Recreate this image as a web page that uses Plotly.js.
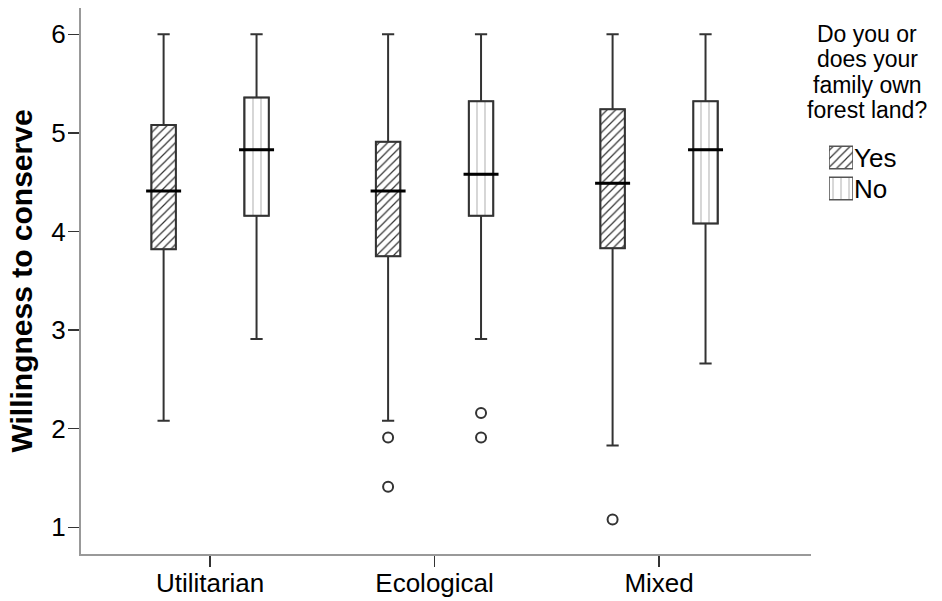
<!DOCTYPE html>
<html>
<head>
<meta charset="utf-8">
<script src="https://cdn.plot.ly/plotly-3.0.1.min.js"></script>
<style>html,body{margin:0;padding:0;background:#fff;}#chart{width:942px;height:601px;}</style>
</head>
<body>
<div id="chart"></div>
<script>
const categories = ['Utilitarian', 'Ecological', 'Mixed'];
const groups = ['Yes', 'No'];

const yesQ1 = [3.82, 3.75, 3.83];
const yesMedian = [4.41, 4.41, 4.49];
const yesQ3 = [5.08, 4.91, 5.24];
const yesLower = [2.08, 2.08, 1.83];
const yesUpper = [6.0, 6.0, 6.0];

const noQ1 = [4.16, 4.16, 4.08];
const noMedian = [4.83, 4.58, 4.83];
const noQ3 = [5.36, 5.32, 5.32];
const noLower = [2.91, 2.91, 2.66];
const noUpper = [6.0, 6.0, 6.0];

const yesOutlierCats = ['Ecological', 'Ecological', 'Mixed'];
const yesOutlierVals = [1.91, 1.41, 1.08];
const noOutlierCats = ['Ecological', 'Ecological'];
const noOutlierVals = [2.16, 1.91];

const legendTitleLines = ['Do you or', 'does your', 'family own', 'forest land?'];
const yTitle = 'Willingness to conserve';

const FONT = '"Liberation Sans", Arial, sans-serif';
const OFFSET = 0.207;
const BOXW = 0.109;
const idx = c => categories.indexOf(c);
const pos = (cats, off) => cats.map(c => idx(c) + off);

const styles = {
  Yes: {off: -OFFSET, pattern: {shape: '/', fgcolor: '#333', bgcolor: '#fff', size: 6, solidity: 0.2},
        q1: yesQ1, med: yesMedian, q3: yesQ3, lo: yesLower, hi: yesUpper, oc: yesOutlierCats, ov: yesOutlierVals},
  No: {off: OFFSET, pattern: {shape: '|', fgcolor: '#aaa', bgcolor: '#fff', size: 8, solidity: 0.12},
       q1: noQ1, med: noMedian, q3: noQ3, lo: noLower, hi: noUpper, oc: noOutlierCats, ov: noOutlierVals}
};

const traces = [];
groups.forEach(g => {
  const s = styles[g];
  const xs = pos(categories, s.off);
  traces.push({
    type: 'bar', name: g, x: xs, base: s.q1, y: s.q3.map((v, i) => v - s.q1[i]),
    width: BOXW, showlegend: false, hoverinfo: 'skip',
    marker: {color: '#fff', pattern: s.pattern, line: {color: '#555', width: 1.5}}
  });
  traces.push({
    type: 'box', name: g, x: xs, q1: s.q1, median: s.med, q3: s.q3,
    lowerfence: s.lo, upperfence: s.hi, width: BOXW, whiskerwidth: 0.5,
    fillcolor: 'rgba(0,0,0,0)', line: {color: '#333', width: 2},
    boxpoints: false, showlegend: false, hoverinfo: 'skip'
  });
  traces.push({
    type: 'scatter', mode: 'markers', x: xs, y: s.med, showlegend: false, hoverinfo: 'skip',
    marker: {symbol: 'line-ew', size: 25, line: {color: '#000', width: 3}}
  });
  traces.push({
    type: 'scatter', mode: 'markers', x: pos(s.oc, s.off), y: s.ov, showlegend: false, hoverinfo: 'skip',
    marker: {symbol: 'circle-open', size: 10, color: '#333', line: {width: 2, color: '#333'}}
  });
  // legend key (patterned square) drawn on a small key axis
  traces.push({
    type: 'bar', orientation: 'h', name: g, x: [1], y: [g], xaxis: 'x2', yaxis: 'y2',
    width: 0.72, showlegend: false, hoverinfo: 'skip',
    marker: {color: '#fff', pattern: s.pattern, line: {color: '#555', width: 1.5}}
  });
});

const lineY = [0.9524, 0.9057, 0.8590, 0.8123];
const annotations = legendTitleLines.map((t, i) => ({
  text: t, xref: 'paper', yref: 'paper', x: 0.9129, y: lineY[i],
  xanchor: 'center', yanchor: 'middle', showarrow: false,
  font: {family: FONT, size: 23, color: '#000'}
}));

const layout = {
  width: 942, height: 601,
  margin: {l: 81, r: 0, t: 8, b: 47, pad: 0},
  paper_bgcolor: '#fff', plot_bgcolor: '#fff',
  font: {family: FONT, color: '#000'},
  barmode: 'overlay', boxmode: 'overlay',
  showlegend: false,
  xaxis: {
    domain: [0, 0.8479],
    range: [-0.575, 2.677], tickvals: [0, 1, 2], ticktext: categories,
    showline: true, linecolor: '#999', linewidth: 2, mirror: false,
    ticks: 'outside', ticklen: 11, tickwidth: 1.5, tickcolor: '#333',
    ticklabelstandoff: -6,
    showgrid: false, zeroline: false, tickfont: {family: FONT, size: 26, color: '#000'}
  },
  yaxis: {
    range: [0.729, 6.267], tickvals: [1, 2, 3, 4, 5, 6],
    showline: true, linecolor: '#999', linewidth: 2,
    ticks: 'outside', ticklen: 11, tickwidth: 1.5, tickcolor: '#333',
    ticklabelstandoff: -3,
    showgrid: false, zeroline: false, tickfont: {family: FONT, size: 26, color: '#000'},
    title: {text: yTitle, font: {family: FONT, size: 30, color: '#000', weight: 'bold'}, standoff: 10}
  },
  xaxis2: {
    domain: [0.8688, 0.8966], anchor: 'y2', range: [0, 1],
    showline: false, showticklabels: false, ticks: '', showgrid: false, zeroline: false
  },
  yaxis2: {
    domain: [0.641, 0.7546], anchor: 'x2', side: 'right', type: 'category',
    categoryorder: 'array', categoryarray: groups, autorange: 'reversed',
    showline: false, ticks: '', showgrid: false, zeroline: false,
    tickfont: {family: FONT, size: 26, color: '#000'}
  },
  annotations: annotations
};

Plotly.newPlot('chart', traces, layout, {displayModeBar: false, staticPlot: true});
</script>
</body>
</html>
